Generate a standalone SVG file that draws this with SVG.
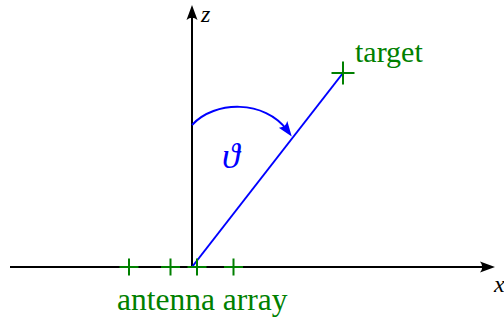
<svg xmlns="http://www.w3.org/2000/svg" width="504" height="322" viewBox="0 0 504 322">
<style>
.ax{stroke:#000;stroke-width:2;fill:none}
.bl{stroke:#0000ff;stroke-width:2;fill:none}
.gr{stroke:#008000;stroke-width:2;fill:none}
.lbl{font-family:"Liberation Serif","Times New Roman",serif;fill:#008000;font-size:30px}
.math{font-family:"Liberation Serif","Times New Roman",serif;font-style:italic}
</style>
<defs>
<marker id="ahk" markerUnits="userSpaceOnUse" markerWidth="20" markerHeight="14" viewBox="0 -7 20 14" refX="7" refY="0" orient="auto">
<path d="M0,-5.5 Q4.5,0 0,5.5 L15,0 Z" fill="#000"/>
</marker>
<marker id="ahb" markerUnits="userSpaceOnUse" markerWidth="20" markerHeight="14" viewBox="0 -7 20 14" refX="7" refY="0" orient="auto">
<path d="M0,-5.5 Q4.5,0 0,5.5 L15,0 Z" fill="#0000ff"/>
</marker>
</defs>
<g id="connectors">
<line class="ax" x1="10" y1="267" x2="487" y2="267" marker-end="url(#ahk)"/>
<line class="ax" x1="192" y1="267" x2="192" y2="13" marker-end="url(#ahk)"/>
<line class="bl" x1="192" y1="267" x2="343" y2="73"/>
<path class="bl" d="M192,125 C215,100 265,100 287,130" marker-end="url(#ahb)"/>
</g>
<g id="x-label"><text class="math" x="494" y="292" font-size="24">x</text></g>
<g id="z-label"><text class="math" x="201" y="22" font-size="24">z</text></g>
<g id="theta"><text class="math" x="222" y="168" font-size="36" fill="#0000ff">ϑ</text></g>
<g id="target">
<path class="gr" d="M331.5,73 H354.5 M343,61.5 V84.5"/>
<text class="lbl" x="355" y="62">target</text>
</g>
<g id="antenna-array">
<path class="gr" d="M119.5,267 H138.5 M129,258.5 V275.5 M161,267 H180 M170.5,258.5 V275.5 M187.5,267 H206.5 M197,258.5 V275.5 M224,267 H243 M233.5,258.5 V275.5"/>
<text class="lbl" x="117" y="310" style="font-size:31.5px">antenna array</text>
</g>
</svg>
